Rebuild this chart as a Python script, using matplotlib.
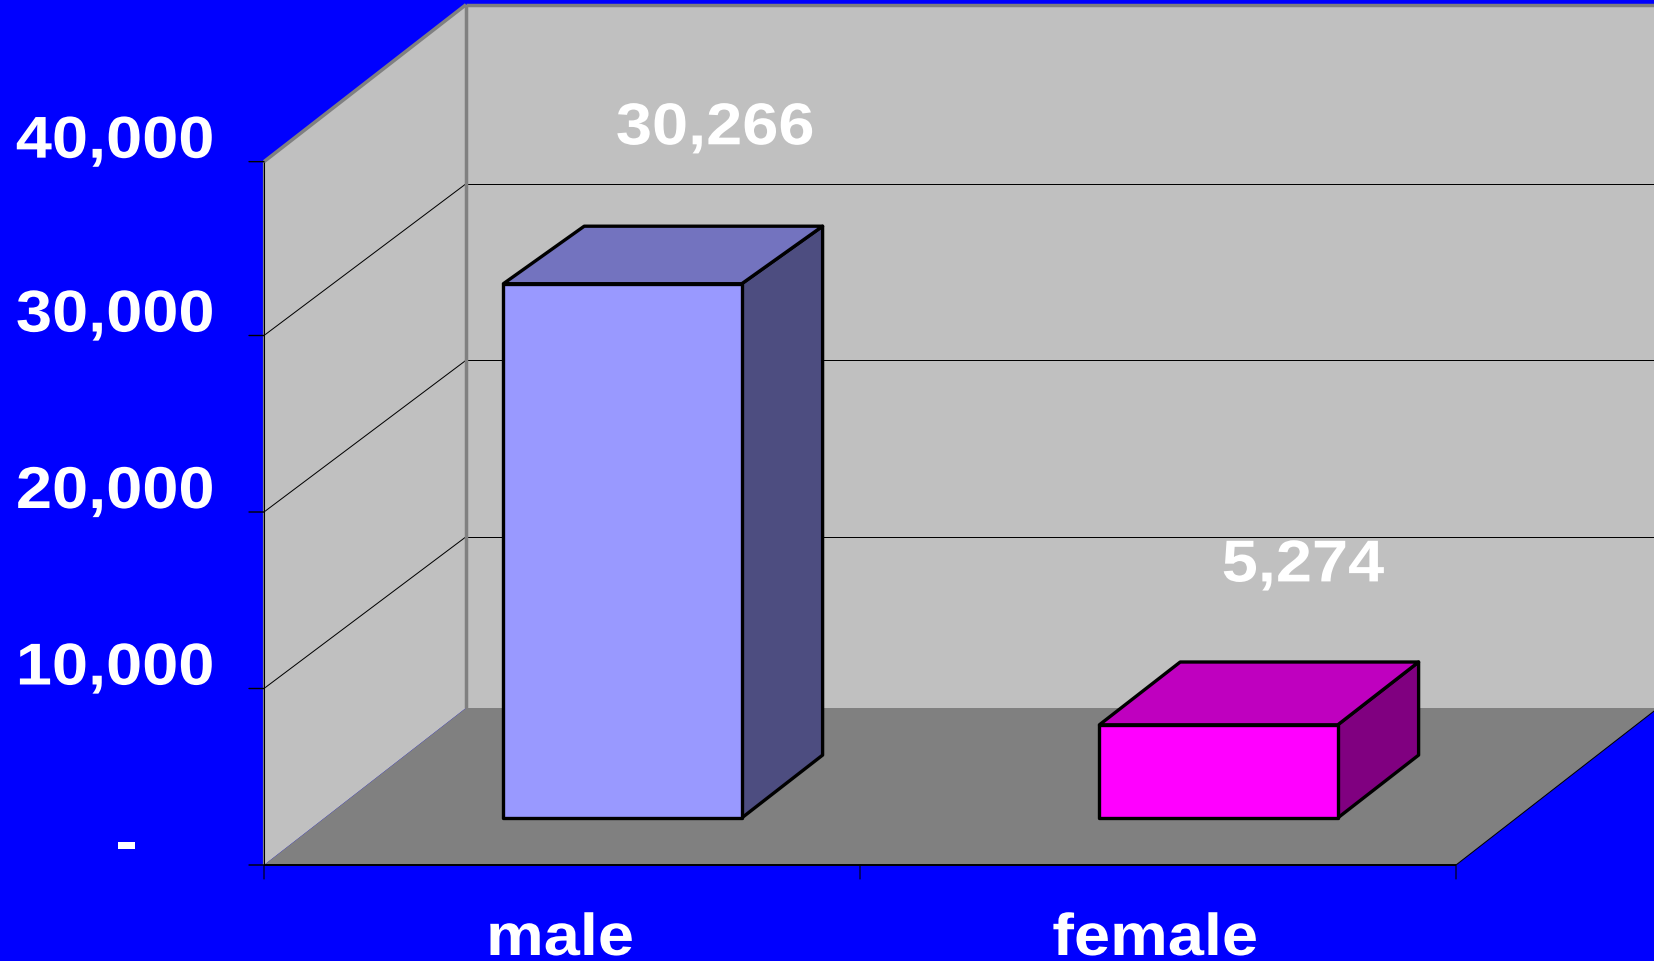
# -*- coding: UTF-8 -*-
import matplotlib
matplotlib.use('Agg')
import matplotlib.pyplot as plt
from matplotlib.patches import Polygon
from matplotlib.patheffects import AbstractPathEffect
from matplotlib.transforms import Affine2D

categories = ['male', 'female']
values = [30266, 5274]
value_labels = ['30,266', '5,274']
tick_values = [0, 10000, 20000, 30000, 40000]
tick_labels = ['-', '10,000', '20,000', '30,000', '40,000']

front_colors = ['#9999ff', '#ff00ff']
top_colors = ['#7373bf', '#bf00bf']
side_colors = ['#4d4d80', '#800080']

W, H = 1654, 961
x0_px, y0_px = 264, 865      # front corner of the chart
x_scale = 596.0              # px per category
y_scale = 0.01765            # px per unit
depth_x = 202.0 / x_scale    # how far the back wall is shifted
depth_y = 157.0 / y_scale
wall_top = 39850             # the top tick sits a bit low in the original
back_drop = 300              # upper back edges also sit a bit low
FS = 42.5
SX = 1.10                    # original text is stretched sideways
font = ['Liberation Sans', 'DejaVu Sans']


# widens a text around its left, middle or right edge
class StretchX(AbstractPathEffect):
    def __init__(self, anchor):
        super().__init__()
        self.anchor = anchor

    def draw_path(self, renderer, gc, tpath, affine, rgbFace=None):
        ext = tpath.get_extents()
        x = ext.x0 + self.anchor * ext.width
        t = Affine2D().translate(-x, 0).scale(SX, 1).translate(x, 0)
        renderer.draw_path(gc, tpath, t + affine, rgbFace)


# x, value and depth (0 front, 1 back) to data coordinates
def proj(x, v, d=0.0):
    return (x + d * depth_x, v + d * depth_y)

def face(ax, pts, color, z, lw=0.0, ec='none'):
    ax.add_patch(Polygon([proj(*p) for p in pts], closed=True, fc=color, ec=ec,
                         lw=lw, zorder=z, joinstyle='round'))

def line(ax, a, b, color='black', lw=0.72, z=2):
    pa, pb = proj(*a), proj(*b)
    ax.plot([pa[0], pb[0]], [pa[1], pb[1]], color=color, lw=lw, zorder=z,
            solid_capstyle='butt')

def label(ax, s, xy, off, ha):
    anchor = {'right': 1.0, 'center': 0.5}[ha]
    ax.annotate(s, xy=xy, xytext=off, textcoords='offset pixels', ha=ha, va='baseline',
                color='white', fontsize=FS, fontweight='bold', family=font, zorder=8,
                annotation_clip=False, path_effects=[StretchX(anchor)])


fig = plt.figure(figsize=(W / 100, H / 100), dpi=100, facecolor='#0000ff')
ax = fig.add_axes([0, 0, 1, 1])
ax.set_xlim(-x0_px / x_scale, (W - x0_px) / x_scale)
ax.set_ylim(-(H - y0_px) / y_scale, y0_px / y_scale)
ax.axis('off')

nx = len(categories)
top = wall_top

# walls and floor
face(ax, [(0, 0, 1), (nx + 1, 0, 1), (nx + 1, top, 1), (0, top, 1)], '#c0c0c0', 1)
face(ax, [(0, 0, 0), (0, 0, 1), (0, top, 1), (0, top, 0)], '#c0c0c0', 1)
face(ax, [(0, 0, 0), (nx, 0, 0), (nx, 0, 1), (0, 0, 1)], '#808080', 1)

# gridlines on both walls
for v in tick_values[1:-1]:
    line(ax, (0, v, 0), (0, v - back_drop, 1))
    line(ax, (0, v - back_drop, 1), (nx + 1, v - back_drop, 1))

# wall border
line(ax, (0, top, 0), (0, top, 1), '#808080', 2.5)
line(ax, (0, 0, 1), (0, top, 1), '#808080', 2.5)
line(ax, (0, top, 1), (nx + 1, top, 1), '#808080', 2.5)
line(ax, (0, 0, 0), (0, top, 0), '#808080', 1.6)

# axes and ticks
line(ax, (0, 0, 0), (0, top, 0), 'black', 0.72, 3)
line(ax, (0, 0, 0), (nx, 0, 0), 'black', 1.4, 3)
line(ax, (nx, 0, 0), (nx, 0, 1), 'black', 0.72, 3)
for v, lab in zip(tick_values, tick_labels):
    v = min(v, top)
    ax.annotate('', xy=(0, v), xytext=(-15, 0), textcoords='offset pixels',
                arrowprops=dict(arrowstyle='-', color='black', lw=1.0, shrinkA=0, shrinkB=0))
    right = -127 if lab == '-' else -50
    label(ax, lab, (0, v), (right, 4), 'right')
for i in range(nx + 1):
    ax.annotate('', xy=(i, 0), xytext=(0, -14), textcoords='offset pixels',
                arrowprops=dict(arrowstyle='-', color='black', lw=0.8, shrinkA=0, shrinkB=0))

# bars, 0.4 wide and from 0.3 to 0.7 deep
label_off = [(52, 108), (44, 112)]
cat_off = [-2, -3]
for i, v in enumerate(values):
    l, r = i + 0.3, i + 0.7
    d0, d1 = 0.3, 0.7
    vb = v - back_drop if v >= 10000 else v
    k = dict(lw=2.4, ec='black')
    face(ax, [(r, 0, d0), (r, 0, d1), (r, vb, d1), (r, v, d0)], side_colors[i], 5, **k)
    face(ax, [(l, v, d0), (r, v, d0), (r, vb, d1), (l, vb, d1)], top_colors[i], 5, **k)
    face(ax, [(l, 0, d0), (r, 0, d0), (r, v, d0), (l, v, d0)], front_colors[i], 6, **k)
    label(ax, value_labels[i], proj(i + 0.5, v, 0.5), label_off[i], 'center')
    label(ax, categories[i], (i + 0.5, 0), (cat_off[i], -90), 'center')

fig.savefig('out.png', dpi=100, facecolor=fig.get_facecolor())
